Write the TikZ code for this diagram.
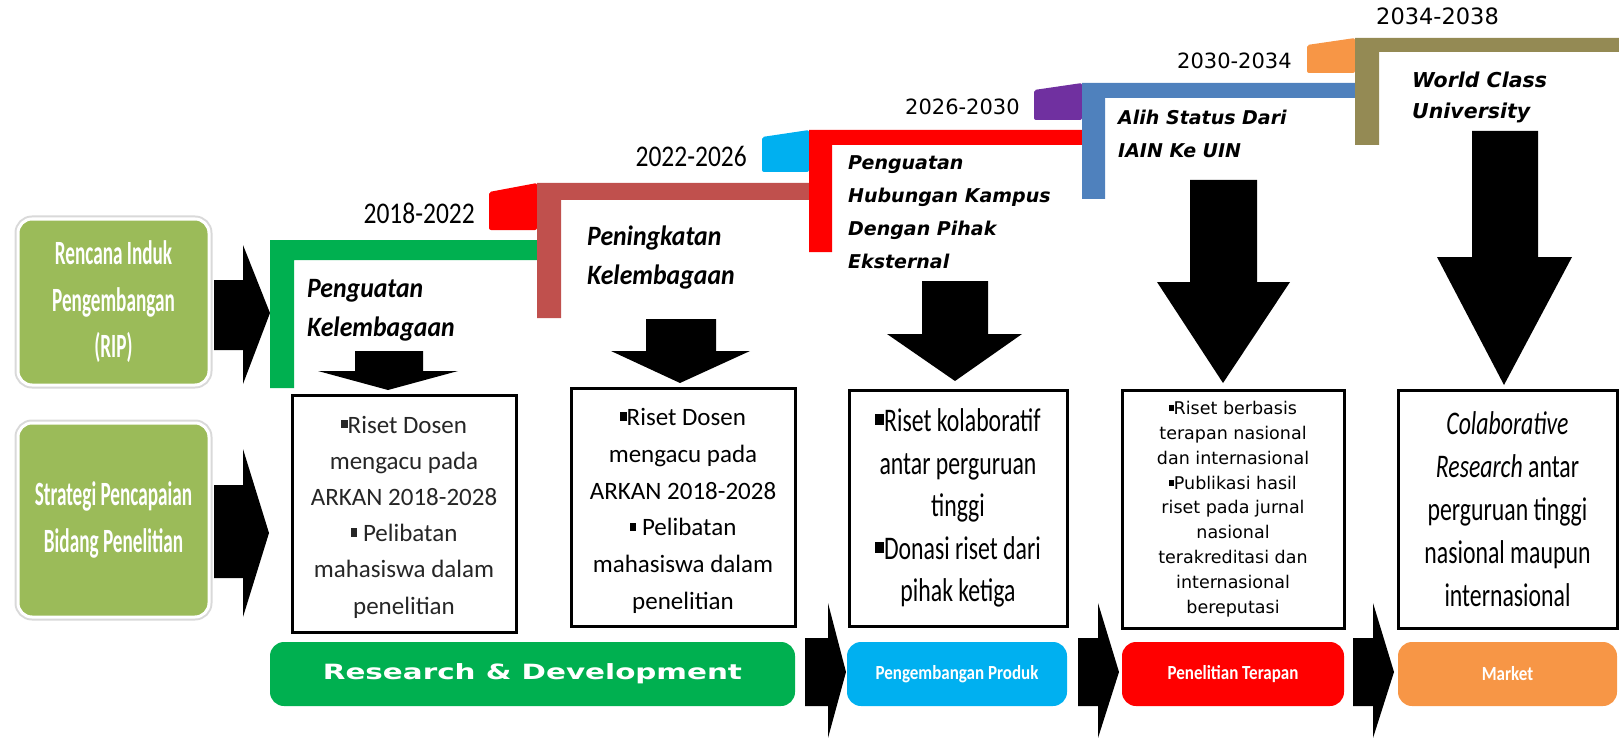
\documentclass[tikz,border=0pt]{standalone}
\usepackage{fontspec}
\setmainfont{Carlito}
\newfontfamily\calN[FakeStretch=0.565]{Carlito}
\newfontfamily\calT[FakeStretch=0.72]{Carlito}
\newfontfamily\calY[FakeStretch=0.85]{Carlito}
\newfontfamily\calL[FakeStretch=0.92]{Carlito}
\newfontfamily\calB[FakeStretch=0.85]{Carlito}
\newfontfamily\dvs{DejaVu Sans}
\newfontfamily\dvsW[FakeStretch=1.4]{DejaVu Sans}
\newcommand{\sqb}{\rule[0.2em]{0.27em}{0.33em}}
\newcommand{\dnblk}[8]{\fill[black] (#1,#3) -- (#2,#3) -- (#2,#6) -- (#5,#6) -- (#7,#8) -- (#4,#6) -- (#1,#6) -- cycle;}
\newcommand{\rtblk}[8]{\fill[black] (#1,#3) -- (#2,#3) -- (#2,#5) -- (#7,#8) -- (#2,#6) -- (#2,#4) -- (#1,#4) -- cycle;}
\definecolor{ripgreen}{HTML}{9BBB59}
\definecolor{cgreen}{HTML}{00B050}
\definecolor{cred}{HTML}{FF0000}
\definecolor{cbrown}{HTML}{C0504D}
\definecolor{cblue}{HTML}{00B0F0}
\definecolor{cpurple}{HTML}{7030A0}
\definecolor{csteel}{HTML}{4F81BD}
\definecolor{corange}{HTML}{F79646}
\definecolor{colive}{HTML}{948A54}
\begin{document}
\begin{tikzpicture}[x=1pt,y=-1pt,
  leftbox/.style={fill=ripgreen, draw=white, line width=3pt, rounded corners=14pt,
    text=white, align=center, inner sep=0pt, minimum width=191pt,
    font=\calN\bfseries\fontsize{34}{46.5}\selectfont,
    preaction={draw=black!15, line width=7pt}},
  contbox/.style={draw=black, line width=3pt, fill=white, align=center, inner sep=0pt},
  stagebox/.style={rounded corners=14pt, inner sep=0pt, minimum height=64pt, text=white},
  yearA/.style={anchor=base east, inner sep=0pt, font=\calY\fontsize{30}{30}\selectfont},
  yearB/.style={anchor=base west, inner sep=0pt, font=\dvs\fontsize{21}{21}\selectfont},
  lblA/.style={anchor=north west, align=left, inner sep=0pt, font=\calL\bfseries\itshape\fontsize{28}{39}\selectfont},
  lblB/.style={anchor=north west, align=left, inner sep=0pt, font=\dvs\bfseries\itshape\fontsize{19}{33.3}\selectfont},
]
\useasboundingbox (0,0) rectangle (1619,738);

% left boxes
\node[leftbox, minimum height=166pt] (rip) at (113.5,302) {Rencana Induk\\Pengembangan\\(RIP)};
\node[leftbox, minimum height=194pt] (str) at (113.5,520) {Strategi Pencapaian\\Bidang Penelitian};
\rtblk{214}{243}{280}{350}{245}{384}{270}{313}
\rtblk{214}{243}{485}{578}{449}{617}{269}{533}

% tabs
\fill[cred, rounded corners=2pt] (489,192) -- (537,183) -- (537,230) -- (489,230) -- cycle;
\fill[cblue, rounded corners=2pt] (762,137) -- (809,130) -- (809,172) -- (762,172) -- cycle;
\fill[cpurple, rounded corners=2pt] (1034,90) -- (1082,83) -- (1082,120) -- (1034,120) -- cycle;
\fill[corange, rounded corners=2pt] (1307,45) -- (1355,38) -- (1355,73) -- (1307,73) -- cycle;

% L shapes
\fill[cgreen] (270,240) -- (537,240) -- (537,260) -- (294,260) -- (294,388) -- (270,388) -- cycle;
\fill[cbrown] (537,183) -- (809,183) -- (809,200) -- (561,200) -- (561,318) -- (537,318) -- cycle;
\fill[cred] (809,130) -- (1082,130) -- (1082,145) -- (832,145) -- (832,252) -- (809,252) -- cycle;
\fill[csteel] (1082,83) -- (1355,83) -- (1355,98) -- (1105,98) -- (1105,199) -- (1082,199) -- cycle;
\fill[colive] (1355,38) -- (1619,38) -- (1619,52) -- (1379,52) -- (1379,145) -- (1355,145) -- cycle;

% years
\node[yearA] (y1) at (475,223) {2018-2022};
\node[yearA] (y2) at (747,167) {2022-2026};
\node[yearB] (y3) at (905,115) {2026-2030};
\node[yearB] (y4) at (1177,69) {2030-2034};
\node[yearB, font=\dvs\fontsize{22.5}{22.5}\selectfont] (y5) at (1376,25) {2034-2038};

% stage labels
\node[lblA] (l1) at (307,279) {Penguatan\\Kelembagaan};
\node[lblA] (l2) at (587,226) {Peningkatan\\Kelembagaan};
\node[lblB] (l3) at (848,155) {Penguatan\\Hubungan Kampus\\Dengan Pihak\\Eksternal};
\node[lblB] (l4) at (1118,110) {Alih Status Dari\\IAIN Ke UIN};
\node[lblB, font=\dvs\bfseries\itshape\fontsize{20.5}{31}\selectfont] (l5) at (1412,72) {World Class\\University};

% down arrows
\dnblk{355}{423}{351}{318}{458}{371}{388}{390}
\dnblk{646}{716}{319}{611}{750}{351}{680}{383}
\dnblk{922}{988}{281}{887}{1022}{334}{955}{381}
\dnblk{1190}{1257}{180}{1157}{1290}{282}{1223}{383}
\dnblk{1472}{1538}{131}{1437}{1572}{257}{1504}{385}

% content boxes
\node[contbox, minimum width=224pt, minimum height=237pt] (b1) at (404,513.5) {};
\node[text=black!85, align=center, inner sep=0pt,
  font=\fontsize{25}{36.2}\selectfont] (t1) at (404,517)
  {\sqb Riset Dosen\\mengacu pada\\ARKAN 2018-2028\\\sqb\ Pelibatan\\mahasiswa dalam\\penelitian};
\node[contbox, minimum width=224pt, minimum height=238pt] (b2) at (683,507) {};
\node[align=center, inner sep=0pt,
  font=\fontsize{25}{36.8}\selectfont] (t2) at (683,511)
  {\sqb Riset Dosen\\mengacu pada\\ARKAN 2018-2028\\\sqb\ Pelibatan\\mahasiswa dalam\\penelitian};
\node[contbox, minimum width=218pt, minimum height=236pt,
  font=\calT\fontsize{33}{42.6}\selectfont] (b3) at (958,508)
  {\sqb Riset kolaboratif\\antar perguruan\\tinggi\\\sqb Donasi riset dari\\pihak ketiga};
\node[contbox, minimum width=222pt, minimum height=238pt,
  font=\dvs\fontsize{17.5}{24.8}\selectfont] (b4) at (1233,509)
  {\sqb Riset berbasis\\terapan nasional\\dan internasional\\\sqb Publikasi hasil\\riset pada jurnal\\nasional\\terakreditasi dan\\internasional\\bereputasi};
\node[contbox, minimum width=219pt, minimum height=238pt,
  font=\calT\fontsize{33}{43}\selectfont] (b5) at (1507.5,509)
  {\textit{Colaborative}\\\textit{Research} antar\\perguruan tinggi\\nasional maupun\\internasional};

% bottom stage boxes
\node[stagebox, fill=cgreen, minimum width=525pt, font=\dvsW\bfseries\fontsize{21}{21}\selectfont] (rd) at (532.5,674) {Research \& Development};
\node[stagebox, fill=cblue, minimum width=220pt, font=\calB\bfseries\fontsize{20}{20}\selectfont] (pp) at (957,674) {Pengembangan Produk};
\node[stagebox, fill=cred, minimum width=222pt, font=\calB\bfseries\fontsize{20}{20}\selectfont] (pt) at (1233,674) {Penelitian Terapan};
\node[stagebox, fill=corange, minimum width=219pt, font=\calB\bfseries\fontsize{20}{20}\selectfont] (mk) at (1507.5,674) {Market};

\rtblk{805}{828}{638}{706}{603}{738}{846}{672}
\rtblk{1078}{1098}{638}{706}{603}{738}{1119}{672}
\rtblk{1353}{1373}{638}{706}{603}{738}{1394}{672}
\end{tikzpicture}
\end{document}
